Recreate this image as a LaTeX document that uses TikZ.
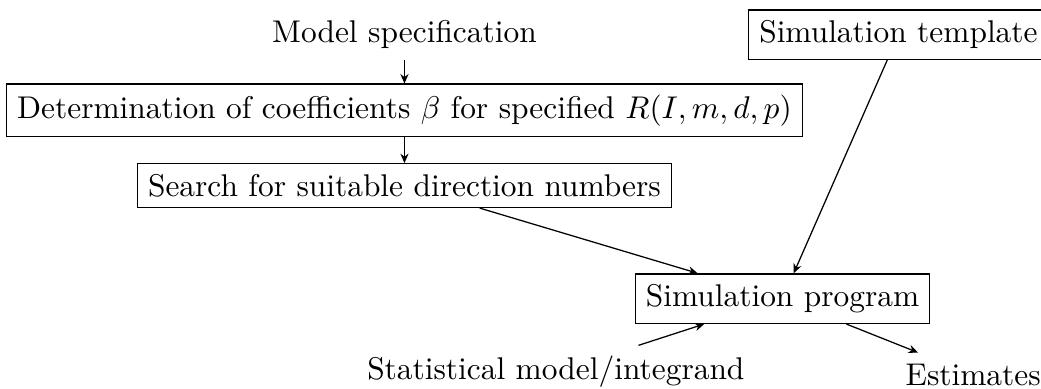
\documentclass[tikz,border=0pt]{standalone}
\usetikzlibrary{arrows.meta}
\begin{document}
\begin{tikzpicture}[
  x=1pt, y=1pt,
  stage/.style={draw, rectangle},
  label/.style={anchor=base},
  flow/.style={-{Stealth[length=3pt,width=2.6pt]}}
]
\useasboundingbox (0,0) rectangle (331.5,-123.6);

% inputs and outputs (plain text)
\node[label] (spec)  at (128.8,-13.6) {Model specification};
\node[label] (stat)  at (177.0,-121.0) {Statistical model/integrand};
\node[label] (est)   at (309.9,-122.6) {Estimates};

% processing stages (boxed)
\node[stage] (coef)   at (128.8,-35.1) {Determination of coefficients $\beta$ for specified $R(I,m,d,p)$};
\node[stage] (search) at (128.8,-59.1) {Search for suitable direction numbers};
\node[stage] (tmpl)   at (286.1,-11.0) {Simulation template};
\node[stage] (prog)   at (249.2,-95.1) {Simulation program};

% data flow
\draw[flow] (spec) -- (coef);
\draw[flow] (coef) -- (search);
\draw[flow] (search) -- (prog);
\draw[flow] (tmpl) -- (prog);
\draw[flow] (stat) -- (prog);
\draw[flow] (prog) -- (est);
\end{tikzpicture}
\end{document}
